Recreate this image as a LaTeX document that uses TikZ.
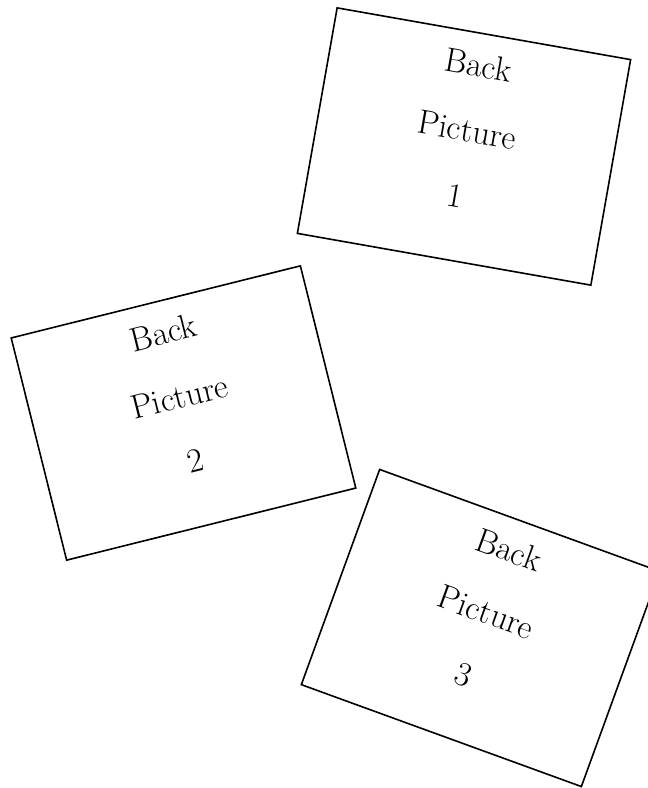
\documentclass[tikz,border=0pt]{standalone}
\usepackage{tikz}
\usetikzlibrary{positioning}
\definecolor{cInk}{HTML}{000000}

\begin{document}
\begin{tikzpicture}[x=0.5pt, y=-0.5pt,
  card/.style={draw=cInk, line width=0.8pt, minimum width=149pt, minimum height=114.5pt,
    inner sep=0pt},
  backtext/.style={text=cInk, align=center, font=\fontsize{17}{33}\selectfont, inner sep=0pt}]
  \useasboundingbox (0,0) rectangle (648,788);
  \clip (0,0) rectangle (648,788);
  \node[card, rotate=-10] (p1) at (464,146.5) {};
  \node[card, rotate=14] (p2) at (183.5,413) {};
  \node[card, rotate=-20] (p3) at (480.5,628) {};
  \node[backtext, rotate=-10, yshift=8.5pt] (t1) at (p1.center) {Back\\Picture\\1};
  \node[backtext, rotate=14, yshift=8.5pt] (t2) at (p2.center) {Back\\Picture\\2};
  \node[backtext, rotate=-20, yshift=8.5pt] (t3) at (p3.center) {Back\\Picture\\3};
\end{tikzpicture}
\end{document}
